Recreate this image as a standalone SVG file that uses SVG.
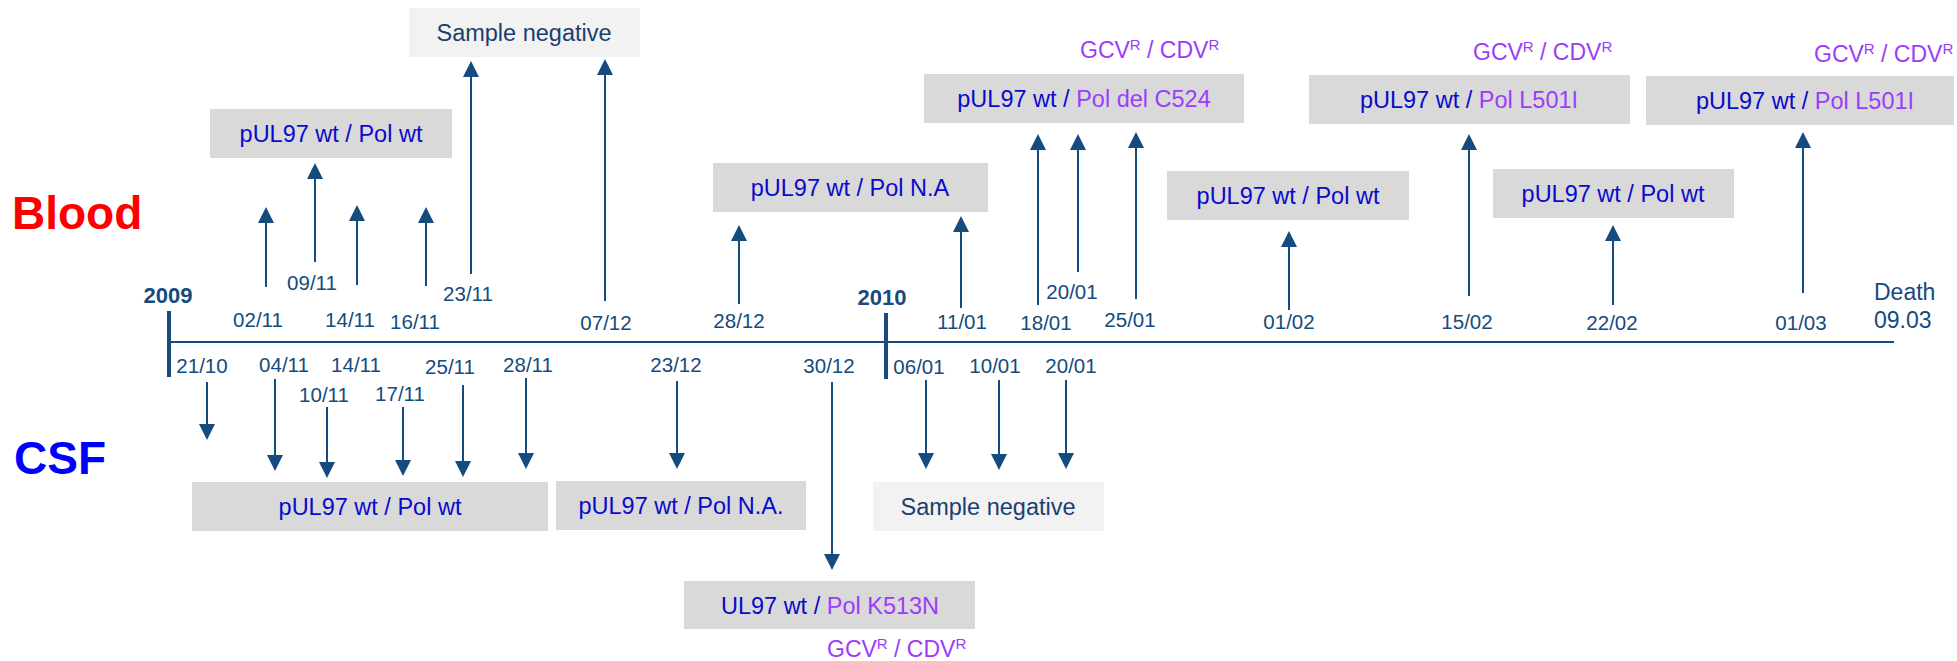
<svg xmlns="http://www.w3.org/2000/svg" width="1957" height="661" viewBox="0 0 1957 661">
<defs>
<marker id="ah" viewBox="0 0 16 16" refX="0" refY="8" markerWidth="16" markerHeight="16" markerUnits="userSpaceOnUse" orient="auto">
<path d="M0,0 L16,8 L0,16 z" fill="#154b7e"/>
</marker>
<style>
.bg{fill:#d9d9d9}
.neg{fill:#f2f2f2}
.bt{font-family:"Liberation Sans",Arial,sans-serif;font-size:23.5px;fill:#0a0acc;text-anchor:middle}
.nt{font-family:"Liberation Sans",Arial,sans-serif;font-size:23.5px;fill:#1a3f6e;text-anchor:middle}
.pu{fill:#9b3cfa}
.gcv{font-family:"Liberation Sans",Arial,sans-serif;font-size:23px;fill:#9b3cfa}
.d{font-family:"Liberation Sans",Arial,sans-serif;font-size:20.5px;fill:#154b7e;text-anchor:middle}
.yr{font-family:"Liberation Sans",Arial,sans-serif;font-size:22px;font-weight:bold;fill:#154b7e;text-anchor:middle}
.de{font-family:"Liberation Sans",Arial,sans-serif;font-size:23px;fill:#154b7e}
.ar{stroke:#154b7e;stroke-width:2;fill:none;marker-end:url(#ah)}
.tl{stroke:#154b7e;fill:none}
</style>
</defs>

<text x="12" y="229" font-family="Liberation Sans,Arial,sans-serif" font-size="46" font-weight="bold" fill="#ff0000">Blood</text>
<text x="14" y="474" font-family="Liberation Sans,Arial,sans-serif" font-size="46" font-weight="bold" fill="#0000ff">CSF</text>

<g id="timeline">
<line class="tl" x1="168" y1="342" x2="1894" y2="342" stroke-width="2"/>
<line class="tl" x1="169" y1="311" x2="169" y2="377" stroke-width="4"/>
<line class="tl" x1="886" y1="313" x2="886" y2="379" stroke-width="4"/>
<text class="yr" x="168" y="303">2009</text>
<text class="yr" x="882" y="305">2010</text>
<text class="de" x="1874" y="300">Death</text>
<text class="de" x="1874" y="328">09.03</text>
</g>

<g id="dates-blood">
<text class="d" x="258" y="327">02/11</text>
<text class="d" x="312" y="290">09/11</text>
<text class="d" x="350" y="327">14/11</text>
<text class="d" x="415" y="329">16/11</text>
<text class="d" x="468" y="301">23/11</text>
<text class="d" x="606" y="330">07/12</text>
<text class="d" x="739" y="328">28/12</text>
<text class="d" x="962" y="329">11/01</text>
<text class="d" x="1046" y="330">18/01</text>
<text class="d" x="1072" y="299">20/01</text>
<text class="d" x="1130" y="327">25/01</text>
<text class="d" x="1289" y="329">01/02</text>
<text class="d" x="1467" y="329">15/02</text>
<text class="d" x="1612" y="330">22/02</text>
<text class="d" x="1801" y="330">01/03</text>
</g>

<g id="dates-csf">
<text class="d" x="202" y="373">21/10</text>
<text class="d" x="284" y="372">04/11</text>
<text class="d" x="324" y="402">10/11</text>
<text class="d" x="356" y="372">14/11</text>
<text class="d" x="400" y="401">17/11</text>
<text class="d" x="450" y="374">25/11</text>
<text class="d" x="528" y="372">28/11</text>
<text class="d" x="676" y="372">23/12</text>
<text class="d" x="829" y="373">30/12</text>
<text class="d" x="919" y="374">06/01</text>
<text class="d" x="995" y="373">10/01</text>
<text class="d" x="1071" y="373">20/01</text>
</g>

<g id="connectors">
<line class="ar" x1="266" y1="287" x2="266" y2="223"/>
<line class="ar" x1="315" y1="262" x2="315" y2="179"/>
<line class="ar" x1="357" y1="285" x2="357" y2="221"/>
<line class="ar" x1="426" y1="286" x2="426" y2="223"/>
<line class="ar" x1="471" y1="274" x2="471" y2="77"/>
<line class="ar" x1="605" y1="301" x2="605" y2="75"/>
<line class="ar" x1="739" y1="304" x2="739" y2="241"/>
<line class="ar" x1="961" y1="308" x2="961" y2="232"/>
<line class="ar" x1="1038" y1="305" x2="1038" y2="150"/>
<line class="ar" x1="1078" y1="272" x2="1078" y2="150"/>
<line class="ar" x1="1136" y1="299" x2="1136" y2="148"/>
<line class="ar" x1="1289" y1="310" x2="1289" y2="247"/>
<line class="ar" x1="1469" y1="296" x2="1469" y2="150"/>
<line class="ar" x1="1613" y1="305" x2="1613" y2="241"/>
<line class="ar" x1="1803" y1="293" x2="1803" y2="148"/>

<line class="ar" x1="207" y1="382" x2="207" y2="424"/>
<line class="ar" x1="275" y1="379" x2="275" y2="455"/>
<line class="ar" x1="327" y1="407" x2="327" y2="462"/>
<line class="ar" x1="403" y1="407" x2="403" y2="460"/>
<line class="ar" x1="463" y1="385" x2="463" y2="461"/>
<line class="ar" x1="526" y1="378" x2="526" y2="453"/>
<line class="ar" x1="677" y1="381" x2="677" y2="453"/>
<line class="ar" x1="832" y1="382" x2="832" y2="554"/>
<line class="ar" x1="926" y1="380" x2="926" y2="453"/>
<line class="ar" x1="999" y1="380" x2="999" y2="454"/>
<line class="ar" x1="1066" y1="380" x2="1066" y2="453"/>
</g>

<g id="blood-1">
<rect class="bg" x="210" y="109" width="242" height="49"/>
<text class="bt" x="331" y="142">pUL97 wt / Pol wt</text>
</g>
<g id="blood-neg">
<rect class="neg" x="409" y="8" width="231" height="49"/>
<text class="nt" x="524" y="41">Sample negative</text>
</g>
<g id="blood-na">
<rect class="bg" x="713" y="163" width="275" height="49"/>
<text class="bt" x="850" y="196">pUL97 wt / Pol N.A</text>
</g>
<g id="blood-c524">
<rect class="bg" x="924" y="74" width="320" height="49"/>
<text class="bt" x="1084" y="107">pUL97 wt / <tspan class="pu">Pol del C524</tspan></text>
<text class="gcv" x="1080" y="58">GCV<tspan dy="-8" font-size="15">R</tspan><tspan dy="8"> / CDV</tspan><tspan dy="-8" font-size="15">R</tspan></text>
</g>
<g id="blood-2">
<rect class="bg" x="1167" y="171" width="242" height="49"/>
<text class="bt" x="1288" y="204">pUL97 wt / Pol wt</text>
</g>
<g id="blood-l501i-1">
<rect class="bg" x="1309" y="75" width="321" height="49"/>
<text class="bt" x="1469" y="108">pUL97 wt / <tspan class="pu">Pol L501I</tspan></text>
<text class="gcv" x="1473" y="60">GCV<tspan dy="-8" font-size="15">R</tspan><tspan dy="8"> / CDV</tspan><tspan dy="-8" font-size="15">R</tspan></text>
</g>
<g id="blood-3">
<rect class="bg" x="1493" y="169" width="241" height="49"/>
<text class="bt" x="1613" y="202">pUL97 wt / Pol wt</text>
</g>
<g id="blood-l501i-2">
<rect class="bg" x="1646" y="76" width="308" height="49"/>
<text class="bt" x="1805" y="109">pUL97 wt / <tspan class="pu">Pol L501I</tspan></text>
<text class="gcv" x="1814" y="62">GCV<tspan dy="-8" font-size="15">R</tspan><tspan dy="8"> / CDV</tspan><tspan dy="-8" font-size="15">R</tspan></text>
</g>

<g id="csf-1">
<rect class="bg" x="192" y="482" width="356" height="49"/>
<text class="bt" x="370" y="515">pUL97 wt / Pol wt</text>
</g>
<g id="csf-na">
<rect class="bg" x="556" y="481" width="250" height="49"/>
<text class="bt" x="681" y="514">pUL97 wt / Pol N.A.</text>
</g>
<g id="csf-neg">
<rect class="neg" x="873" y="482" width="231" height="49"/>
<text class="nt" x="988" y="515">Sample negative</text>
</g>
<g id="csf-k513n">
<rect class="bg" x="684" y="581" width="291" height="48"/>
<text class="bt" x="830" y="614">UL97 wt / <tspan class="pu">Pol K513N</tspan></text>
<text class="gcv" x="827" y="657">GCV<tspan dy="-8" font-size="15">R</tspan><tspan dy="8"> / CDV</tspan><tspan dy="-8" font-size="15">R</tspan></text>
</g>
</svg>
